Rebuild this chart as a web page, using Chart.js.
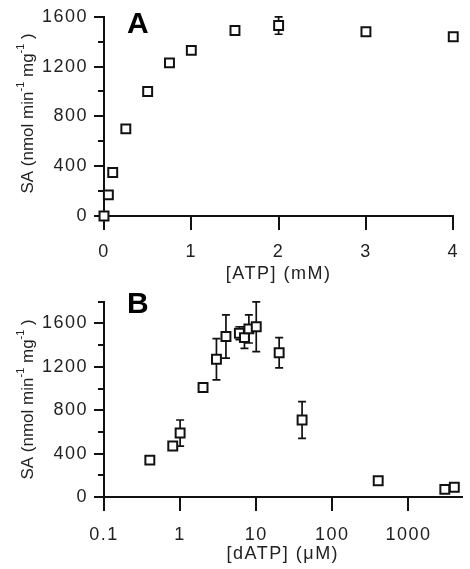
<!DOCTYPE html>
<html>
<head>
<meta charset="utf-8">
<script src="https://cdn.jsdelivr.net/npm/chart.js@4"></script>
<style>
  html, body { margin: 0; padding: 0; background: #fff; }
  #wrap { position: relative; width: 470px; height: 569px; }
  .panel { position: absolute; left: 0; width: 470px; }
</style>
</head>
<body>
<div id="wrap">
  <div class="panel" style="top:0;height:285px"><canvas id="chartA" width="470" height="285"></canvas></div>
  <div class="panel" style="top:285px;height:284px"><canvas id="chartB" width="470" height="284"></canvas></div>
</div>
<script>
"use strict";

// panel A: ATP
const atpConc = [0, 0.05, 0.1, 0.25, 0.5, 0.75, 1, 1.5, 2, 3, 4];
const atpSA = [0, 170, 350, 700, 1000, 1230, 1330, 1490, 1530, 1480, 1440];
const atpErr = [0, 0, 0, 0, 0, 25, 0, 30, 70, 0, 0];

// panel B: dATP
const datpConc = [0.4, 0.8, 1, 2, 3, 4, 6, 7, 8, 10, 20, 40, 400, 3000, 4000];
const datpSA = [340, 470, 590, 1010, 1270, 1480, 1510, 1470, 1550, 1570, 1330, 710, 150, 70, 90];
const datpErr = [0, 0, 120, 0, 190, 200, 60, 100, 130, 230, 140, 170, 0, 0, 0];

const saTicks = [0, 400, 800, 1200, 1600];
const saMinorA = [200, 600, 1000, 1400];
const saMinorB = [200, 600, 1000, 1400, 1800];
const atpTicks = [0, 1, 2, 3, 4];
const datpTicks = [0.1, 1, 10, 100, 1000];

const FONT = "'Liberation Sans', Arial, sans-serif";
const INK = "#111";
const TEXT = "#222";

const spacing = {
  id: "spacing",
  beforeLayout(chart) { chart.ctx.letterSpacing = "1.5px"; },
  beforeDraw(chart) { chart.ctx.letterSpacing = "1.5px"; },
};

const errorBars = {
  id: "errorBars",
  beforeDatasetsDraw(chart, args, opts) {
    const ctx = chart.ctx;
    const y = chart.scales.y;
    const ds = chart.data.datasets[0].data;
    const meta = chart.getDatasetMeta(0);
    ctx.save();
    ctx.strokeStyle = INK;
    ctx.lineWidth = 1.7;
    meta.data.forEach((pt, i) => {
      const e = opts.errors[i];
      if (!e) return;
      const top = y.getPixelForValue(ds[i].y + e);
      const bot = y.getPixelForValue(ds[i].y - e);
      ctx.beginPath();
      ctx.moveTo(pt.x, top); ctx.lineTo(pt.x, bot);
      ctx.moveTo(pt.x - 4, top); ctx.lineTo(pt.x + 4, top);
      ctx.moveTo(pt.x - 4, bot); ctx.lineTo(pt.x + 4, bot);
      ctx.stroke();
    });
    ctx.restore();
  },
};

const minorTicks = {
  id: "minorTicks",
  afterDraw(chart, args, opts) {
    const ctx = chart.ctx;
    const y = chart.scales.y;
    const left = chart.chartArea.left;
    ctx.save();
    ctx.strokeStyle = INK;
    ctx.lineWidth = 2;
    opts.values.forEach((v) => {
      const py = Math.round(y.getPixelForValue(v));
      ctx.beginPath();
      ctx.moveTo(left - 6, py);
      ctx.lineTo(left, py);
      ctx.stroke();
    });
    ctx.restore();
  },
};

// panel letter and the rotated y title with superscripts
const labels = {
  id: "labels",
  afterDraw(chart, args, opts) {
    const ctx = chart.ctx;
    const area = chart.chartArea;
    ctx.save();
    ctx.letterSpacing = "0px";
    ctx.fillStyle = "#000";
    ctx.font = "bold 30px " + FONT;
    ctx.textBaseline = "alphabetic";
    ctx.fillText(opts.letter, opts.lx, opts.ly);

    const parts = [
      ["SA (nmol min", false], ["-1", true], [" mg", false], ["-1", true], [" )", false],
    ];
    const big = "17px " + FONT;
    const small = "11px " + FONT;
    let total = 0;
    parts.forEach(([t, sup]) => {
      ctx.font = sup ? small : big;
      total += ctx.measureText(t).width;
    });
    const cy = (area.top + area.bottom) / 2 + opts.dy;
    ctx.translate(33, cy);
    ctx.rotate(-Math.PI / 2);
    ctx.fillStyle = TEXT;
    let x = -total / 2;
    parts.forEach(([t, sup]) => {
      ctx.font = sup ? small : big;
      ctx.fillText(t, x, sup ? -9 : 0);
      x += ctx.measureText(t).width;
    });
    ctx.restore();
  },
};

function makeChart(id, cfg) {
  const points = cfg.xs.map((v, i) => ({ x: v, y: cfg.ys[i] }));
  return new Chart(document.getElementById(id), {
    type: "scatter",
    data: {
      datasets: [{
        data: points,
        pointStyle: "rect",
        radius: 6.3,
        hoverRadius: 6.3,
        borderColor: INK,
        borderWidth: 2,
        backgroundColor: "#fff",
        clip: false,
      }],
    },
    options: {
      responsive: false,
      animation: false,
      events: [],
      layout: { padding: { left: 0, right: cfg.right, top: cfg.top, bottom: 0 } },
      plugins: {
        legend: { display: false },
        tooltip: { enabled: false },
        errorBars: { errors: cfg.errors },
        minorTicks: { values: cfg.minor },
        labels: { letter: cfg.letter, lx: 127, ly: cfg.letterY, dy: cfg.titleDy },
      },
      scales: {
        x: {
          type: cfg.xType,
          min: cfg.xMin,
          max: cfg.xMax,
          afterBuildTicks: (s) => { s.ticks = cfg.xTicks.map((v) => ({ value: v })); },
          afterFit: (s) => { s.height = cfg.xHeight; },
          border: { color: INK, width: 2 },
          grid: { drawOnChartArea: false, drawTicks: true, tickLength: 14, tickColor: INK, lineWidth: 2 },
          ticks: {
            color: TEXT,
            padding: cfg.xPad,
            maxRotation: 0,
            font: { family: FONT, size: 18 },
            callback: (v) => String(v),
          },
          title: {
            display: true,
            text: cfg.xTitle,
            color: TEXT,
            padding: { top: 0, bottom: cfg.titlePad },
            font: { family: FONT, size: 18 },
          },
        },
        y: {
          min: 0,
          max: cfg.yMax,
          afterBuildTicks: (s) => { s.ticks = saTicks.map((v) => ({ value: v })); },
          afterFit: (s) => { s.width = 104; },
          border: { color: INK, width: 2 },
          grid: { drawOnChartArea: false, drawTicks: true, tickLength: 10, tickColor: INK, lineWidth: 2 },
          ticks: {
            color: TEXT,
            padding: 6,
            font: { family: FONT, size: 18 },
            callback: (v) => String(v),
          },
        },
      },
    },
    plugins: [spacing, errorBars, minorTicks, labels],
  });
}

makeChart("chartA", {
  xs: atpConc, ys: atpSA, errors: atpErr, minor: saMinorA,
  xType: "linear", xMin: 0, xMax: 4, xTicks: atpTicks,
  yMax: 1600, top: 14, right: 7, xHeight: 69, xPad: 11, titlePad: 0,
  xTitle: "[ATP] (mM)", letter: "A", letterY: 33, titleDy: -3,
});

makeChart("chartB", {
  xs: datpConc, ys: datpSA, errors: datpErr, minor: saMinorB,
  xType: "logarithmic", xMin: 0.1, xMax: 5000, xTicks: datpTicks,
  yMax: 1800, top: 9, right: 6, xHeight: 72, xPad: 13, titlePad: 4,
  xTitle: "[dATP] (μM)", letter: "B", letterY: 28, titleDy: 0,
});
</script>
</body>
</html>
